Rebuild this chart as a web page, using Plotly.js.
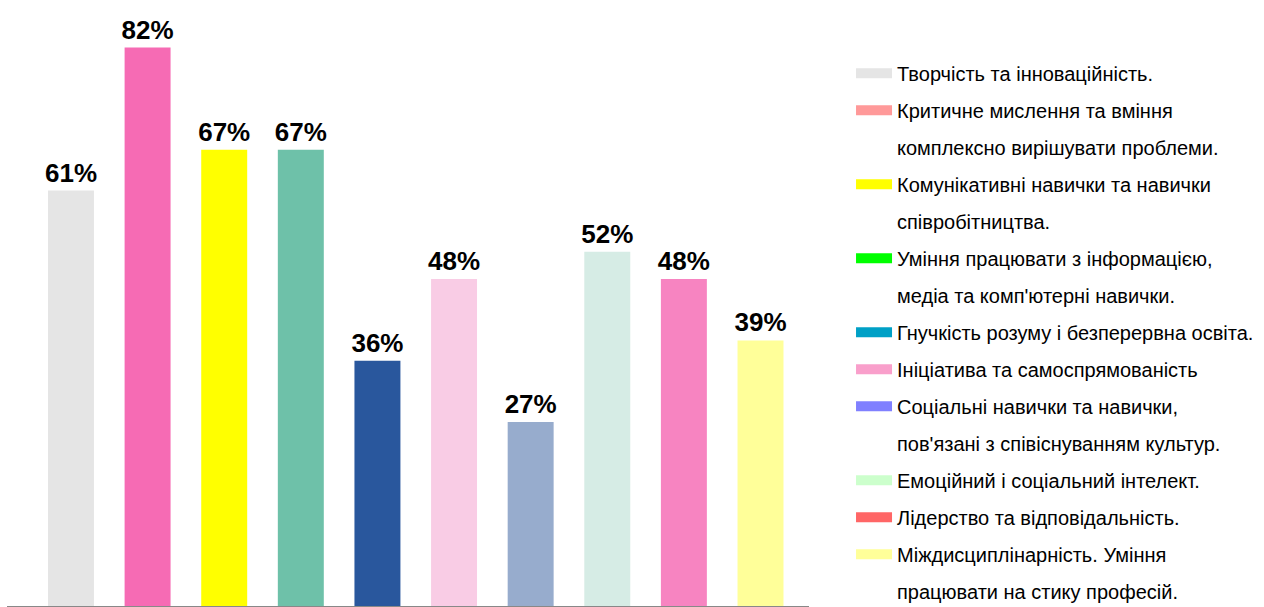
<!DOCTYPE html>
<html>
<head>
<meta charset="utf-8">
<script src="https://cdn.plot.ly/plotly-3.0.1.min.js"></script>
<style>html,body{margin:0;padding:0;background:#fff;}#chart{width:1264px;height:607px;}</style>
</head>
<body>
<div id="chart"></div>
<script>
// Categories (skills)
const skills = [
  "Творчість та інноваційність.",
  "Критичне мислення та вміння комплексно вирішувати проблеми.",
  "Комунікативні навички та навички співробітництва.",
  "Уміння працювати з інформацією, медіа та комп'ютерні навички.",
  "Гнучкість розуму і безперервна освіта.",
  "Ініціатива та самоспрямованість",
  "Соціальні навички та навички, пов'язані з співіснуванням культур.",
  "Емоційний і соціальний інтелект.",
  "Лідерство та відповідальність.",
  "Міждисциплінарність. Уміння працювати на стику професій."
];
// Values, %
const values = [61, 82, 67, 67, 36, 48, 27, 52, 48, 39];
// Bar colours
const barColors = ["#E5E5E5", "#F66BB4", "#FFFF00", "#6EC1A9", "#29579D",
                   "#F9CCE5", "#97ACCD", "#D6ECE5", "#F784C1", "#FFFF99"];
// Legend swatch colours
const legendColors = ["#E5E5E5", "#FF9999", "#FFFF00", "#00FF00", "#00A0C6",
                      "#F99FCB", "#8080FF", "#CCFFCC", "#FF6666", "#FFFF99"];
// Legend text lines as wrapped in the reference
const legendLines = [
  ["Творчість та інноваційність."],
  ["Критичне мислення та вміння", "комплексно вирішувати проблеми."],
  ["Комунікативні навички та навички", "співробітництва."],
  ["Уміння працювати з інформацією,", "медіа та комп'ютерні навички."],
  ["Гнучкість розуму і безперервна освіта."],
  ["Ініціатива та самоспрямованість"],
  ["Соціальні навички та навички,", "пов'язані з співіснуванням культур."],
  ["Емоційний і соціальний інтелект."],
  ["Лідерство та відповідальність."],
  ["Міждисциплінарність. Уміння", "працювати на стику професій."]
];

const FONT = "Liberation Sans, Arial, sans-serif";

const traces = [{
  type: "bar",
  x: skills,
  y: values,
  marker: {color: barColors},
  width: 0.6,
  texttemplate: "%{y}%",
  textposition: "outside",
  constraintext: "none",
  cliponaxis: false,
  textfont: {family: FONT, size: 26, color: "#000", weight: "bold"},
  showlegend: false,
  hoverinfo: "skip"
}];

let g = 0;
legendLines.forEach((lines, i) => {
  lines.forEach((ln, j) => {
    traces.push({
      type: "scatter",
      mode: "lines",
      x: [null], y: [null],
      name: ln,
      legendgroup: "g" + (g++),
      line: {color: j === 0 ? legendColors[i] : "rgba(0,0,0,0)", width: 15},
      hoverinfo: "skip"
    });
  });
});

const layout = {
  width: 1264, height: 607,
  margin: {l: 7, r: 455, t: 5, b: 1, autoexpand: false},
  paper_bgcolor: "#fff", plot_bgcolor: "#fff",
  barmode: "overlay",
  showlegend: true,
  xaxis: {
    type: "category",
    range: [-0.835, 9.633],
    showticklabels: false, ticks: "",
    showgrid: false, zeroline: false,
    showline: true, linecolor: "#888888", linewidth: 1,
    fixedrange: true
  },
  yaxis: {
    range: [0, 88.25],
    visible: false,
    fixedrange: true
  },
  legend: {
    x: 1.0524, xanchor: "left",
    y: 0.919, yanchor: "top",
    traceorder: "grouped",
    tracegroupgap: 8,
    itemwidth: 36,
    font: {family: FONT, size: 20, color: "#000"},
    bgcolor: "rgba(0,0,0,0)",
    itemclick: false, itemdoubleclick: false
  },
  font: {family: FONT}
};

Plotly.newPlot("chart", traces, layout, {displayModeBar: false, staticPlot: true});
</script>
</body>
</html>
